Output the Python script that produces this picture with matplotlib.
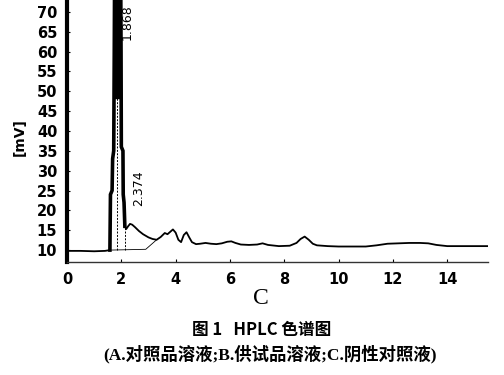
import matplotlib
matplotlib.use('Agg')
import matplotlib.pyplot as plt

# chromatogram trace (retention time in min, signal in mV)
rt = [0.0, 0.5, 1.0, 1.4, 1.58, 1.60, 1.66, 1.68, 1.72, 1.74, 1.78, 1.868,
      1.95, 1.99, 2.0, 2.06, 2.07, 2.1, 2.13, 2.18, 2.25, 2.32, 2.4, 2.5,
      2.65, 2.8, 3.0, 3.15, 3.3, 3.45, 3.6, 3.7, 3.8, 3.9, 4.0, 4.1, 4.2,
      4.3, 4.4, 4.5, 4.6, 4.75, 4.9, 5.1, 5.3, 5.5, 5.7, 5.9, 6.05, 6.2,
      6.4, 6.7, 7.0, 7.2, 7.4, 7.8, 8.2, 8.45, 8.6, 8.75, 8.9, 9.05, 9.2,
      9.6, 10.0, 10.5, 11.0, 11.4, 11.8, 12.2, 12.6, 13.0, 13.3, 13.6,
      14.0, 14.5, 15.0, 15.5]
mv = [9.8, 9.8, 9.7, 9.8, 10.0, 24.0, 25.0, 33.0, 35.0, 60.0, 120.0, 200.0,
      120.0, 60.0, 36.0, 35.0, 24.0, 22.0, 16.0, 15.3, 16.0, 16.6, 16.4,
      15.8, 14.8, 14.0, 13.2, 12.8, 12.6, 13.3, 14.3, 14.0, 14.6, 15.2,
      14.4, 12.6, 12.0, 13.8, 14.5, 13.2, 12.0, 11.5, 11.6, 11.8, 11.6,
      11.5, 11.7, 12.1, 12.2, 11.8, 11.4, 11.3, 11.4, 11.7, 11.3, 11.0,
      11.1, 11.8, 12.8, 13.4, 12.6, 11.6, 11.2, 11.0, 10.9, 10.9, 10.9,
      11.2, 11.6, 11.7, 11.8, 11.8, 11.7, 11.3, 11.0, 11.0, 11.0, 11.0]

# integration baseline and drop lines of the main peak
base_x = [1.6, 2.9, 3.3]
base_y = [10.0, 10.2, 12.6]
drop_x = [1.84, 2.13]
drop_top = [52.0, 16.0]
drop_bottom = [10.1, 10.1]

peak_labels = ['1.868', '2.374']
label_x = [2.2, 2.62]
label_y = [67.5, 25.5]

xticks = [0, 2, 4, 6, 8, 10, 12, 14]
yticks = [10, 15, 20, 25, 30, 35, 40, 45, 50, 55, 60, 65, 70]

fig = plt.figure(figsize=(5.04, 3.75), dpi=100)
ax = fig.add_axes([67 / 504, 113 / 375, 421 / 504, 270 / 375])

ax.plot(rt, mv, color='black', linewidth=1.3)
# heavy peak edges and solid top of the main peak
ax.plot(rt[4:19], mv[4:19], color='black', linewidth=2.6,
        solid_joinstyle='miter')
ax.fill_between(rt[4:19], 48.0, mv[4:19], where=[v >= 48 for v in mv[4:19]],
                interpolate=True, color='black', linewidth=0)
ax.plot(base_x, base_y, color='black', linewidth=0.6)
ax.vlines(drop_x, drop_bottom, drop_top, color='black', linewidth=0.7,
          linestyles=(0, (2, 1.5)))

for t, x, y in zip(peak_labels, label_x, label_y):
    ax.text(x, y, t, rotation=90, ha='center', va='center', fontsize=9,
            color='black')

ax.set_xlim(0, 15.5)
ax.set_ylim(7, 75)
ax.set_xticks(xticks)
ax.set_yticks(yticks)
ax.tick_params(axis='both', direction='in', length=2, width=0.8,
               labelsize=10.5, pad=7)
for lab in ax.get_xticklabels() + ax.get_yticklabels():
    lab.set_fontweight('bold')

ax.spines['top'].set_visible(False)
ax.spines['right'].set_visible(False)
ax.spines['left'].set_linewidth(3)
ax.spines['bottom'].set_linewidth(1.0)
ax.spines['bottom'].set_color('#333333')

fig.text(20 / 504, 1 - 137 / 375, '[mV]', rotation=90, ha='center',
         va='center', fontsize=10, fontweight='bold')
fig.text(261 / 504, 1 - 298 / 375, 'C', ha='center', va='center',
         fontsize=17, family='Liberation Serif')
fig.text(262 / 504, 1 - 330 / 375, '图 1   HPLC 色谱图', ha='center',
         va='center', fontsize=12, fontweight='bold',
         family=['Noto Sans CJK SC', 'DejaVu Sans'])
fig.text(270 / 504, 1 - 354 / 375,
         '(A.对照品溶液;B.供试品溶液;C.阴性对照液)', ha='center',
         va='center', fontsize=12.5, fontweight='bold',
         family=['Liberation Serif', 'Noto Sans CJK SC'])

fig.savefig('out.png', dpi=100)
